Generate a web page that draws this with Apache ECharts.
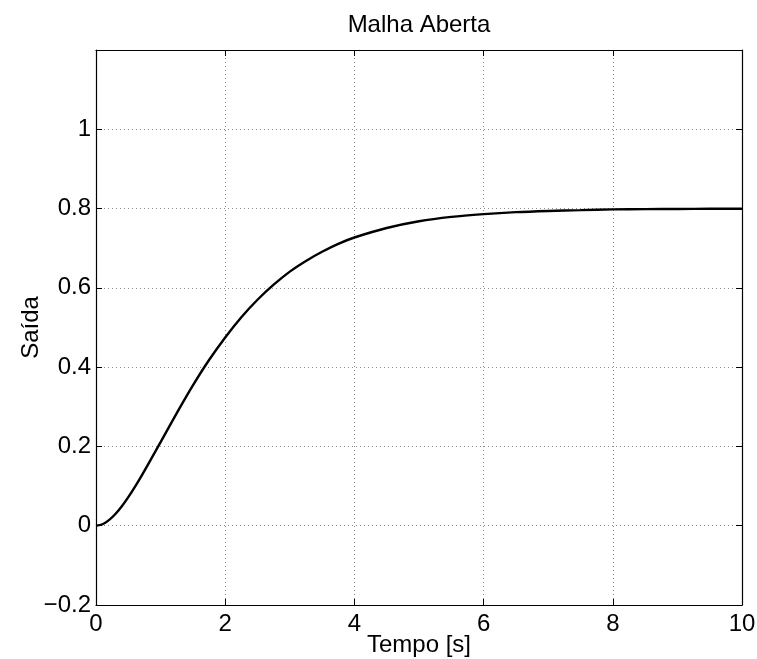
<!DOCTYPE html>
<html>
<head>
<meta charset="utf-8">
<script src="https://cdn.jsdelivr.net/npm/echarts@6/dist/echarts.min.js"></script>
<style>
html,body{margin:0;padding:0;background:#fff;}
#chart{width:757px;height:659px;}
</style>
</head>
<body>
<div id="chart"></div>
<script>
// Data
var timeValues = [0, 0.1, 0.2, 0.3, 0.4, 0.5, 0.6, 0.7, 0.8, 0.9, 1, 1.25, 1.5, 1.75, 2, 2.25, 2.5, 2.75, 3, 3.25, 3.5, 3.75, 4, 4.5, 5, 5.5, 6, 6.5, 7, 7.5, 8, 8.5, 9, 9.5, 10];
var outputValues = [0, 0.0037, 0.014, 0.0296, 0.0492, 0.0722, 0.0975, 0.1246, 0.153, 0.182, 0.211, 0.284, 0.354, 0.418, 0.475, 0.526, 0.570, 0.608, 0.641, 0.668, 0.691, 0.711, 0.727, 0.751, 0.768, 0.779, 0.786, 0.791, 0.794, 0.796, 0.798, 0.7985, 0.799, 0.7994, 0.7996];
var xTicks = [0, 2, 4, 6, 8, 10];
var yTicks = [-0.2, 0, 0.2, 0.4, 0.6, 0.8, 1, 1.2];
var titleText = 'Malha Aberta';
var xName = 'Tempo [s]';
var yName = 'Saída';

var font = "'Liberation Sans', Arial, Helvetica, sans-serif";
var pts = timeValues.map(function (t, i) { return [t, outputValues[i]]; });

function yFmt(v) {
  var r = Math.round(v * 10) / 10;
  if (Math.abs(r - 1.2) < 1e-9) return '';
  var s = String(r);
  return s.replace('-', '\u2212');
}

var chart = echarts.init(document.getElementById('chart'), null, {renderer: 'canvas'});
var tickStyle = {show: true, inside: true, length: 6, lineStyle: {color: '#000', width: 1}};
var lineStyle = {show: true, onZero: false, lineStyle: {color: '#000', width: 1.2}};
chart.setOption({
  backgroundColor: '#fff',
  animation: false,
  title: {
    text: titleText, left: 414, top: 8, textAlign: 'center',
    textStyle: {fontFamily: font, fontSize: 24, fontWeight: 'normal', color: '#000'}
  },
  grid: {left: 96, right: 15, top: 50, bottom: 54, containLabel: false, outerBoundsMode: 'none'},
  xAxis: [{
    type: 'value', min: xTicks[0], max: xTicks[xTicks.length - 1], interval: 2,
    position: 'bottom',
    name: xName, nameLocation: 'middle', nameGap: 28, nameMoveOverlap: false,
    nameTextStyle: {fontFamily: font, fontSize: 24, color: '#000'},
    axisLine: lineStyle, axisTick: tickStyle,
    axisLabel: {fontFamily: font, fontSize: 24, color: '#000', margin: 7},
    splitLine: {show: true, lineStyle: {color: '#8c8c8c', type: [1, 3], width: 1}}
  }, {
    type: 'value', min: xTicks[0], max: xTicks[xTicks.length - 1], interval: 2,
    position: 'top',
    axisLine: lineStyle, axisTick: tickStyle,
    axisLabel: {show: false}, splitLine: {show: false}
  }],
  yAxis: [{
    type: 'value', min: yTicks[0], max: yTicks[yTicks.length - 1], interval: 0.2,
    position: 'left',
    name: yName, nameLocation: 'middle', nameGap: 53, nameRotate: 90, nameMoveOverlap: false,
    nameTextStyle: {fontFamily: font, fontSize: 24, color: '#000'},
    axisLine: lineStyle, axisTick: tickStyle,
    axisLabel: {fontFamily: font, fontSize: 24, color: '#000', margin: 5, formatter: yFmt},
    splitLine: {show: true, lineStyle: {color: '#8c8c8c', type: [1, 3], width: 1}}
  }, {
    type: 'value', min: yTicks[0], max: yTicks[yTicks.length - 1], interval: 0.2,
    position: 'right',
    axisLine: lineStyle, axisTick: tickStyle,
    axisLabel: {show: false}, splitLine: {show: false}
  }],
  series: [{
    type: 'line', data: pts, xAxisIndex: 0, yAxisIndex: 0,
    smooth: 0.3, showSymbol: false, symbol: 'none',
    lineStyle: {color: '#000', width: 2.4}
  }]
});
</script>
</body>
</html>
